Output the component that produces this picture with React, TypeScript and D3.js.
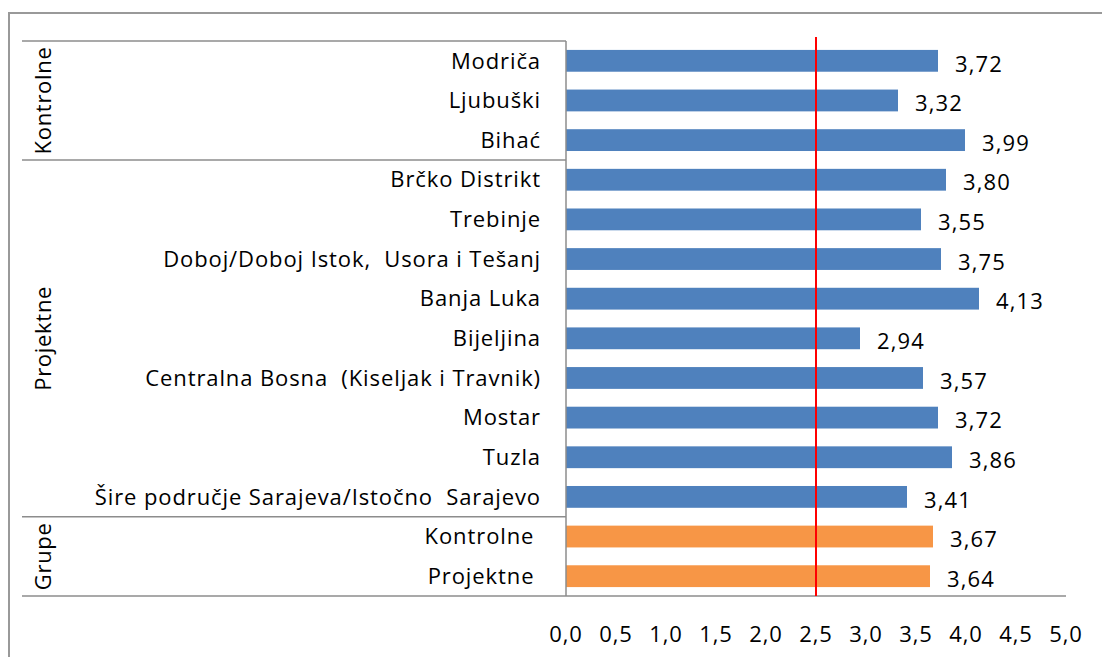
import React from 'react'
import * as d3 from 'd3'

// categories top to bottom, with their group
const categories = [
  'Modriča', 'Ljubuški', 'Bihać',
  'Brčko Distrikt', 'Trebinje', 'Doboj/Doboj Istok,  Usora i Tešanj', 'Banja Luka',
  'Bijeljina', 'Centralna Bosna  (Kiseljak i Travnik)', 'Mostar', 'Tuzla',
  'Šire područje Sarajeva/Istočno  Sarajevo',
  'Kontrolne ', 'Projektne ',
]
const values = [3.72, 3.32, 3.99, 3.80, 3.55, 3.75, 4.13, 2.94, 3.57, 3.72, 3.86, 3.41, 3.67, 3.64]
const groups = [
  { name: 'Kontrolne', from: 0, to: 2 },
  { name: 'Projektne', from: 3, to: 11 },
  { name: 'Grupe', from: 12, to: 13 },
]
const xTicks = [0, 0.5, 1, 1.5, 2, 2.5, 3, 3.5, 4, 4.5, 5]
const threshold = 2.5

const W = 1102
const H = 657
const left = 566
const right = 1066
const top = 41
const bottom = 596
const font = 'Open Sans, sans-serif'
const fs = 22

export default function App() {
  const x = d3.scaleLinear().domain([0, 5]).range([left, right])
  const y = d3.scaleBand<number>().domain(d3.range(categories.length)).range([top, bottom]).paddingInner(0.45).paddingOuter(0.225)
  const step = y.step()
  const fmt = (v: number) => d3.format('.2f')(v).replace('.', ',')
  const fmtTick = (v: number) => d3.format('.1f')(v).replace('.', ',')
  const axisColor = '#8c8c8c'

  return (
    <svg width={W} height={H} style={{ position: 'absolute', left: 0, top: 0 }} fontFamily={font}>
      <rect x={0} y={0} width={W} height={H} fill="#fff" />
      {/* outer frame */}
      <path d={`M9,${H} V13 H${W}`} fill="none" stroke="#999" strokeWidth={2} />

      {/* bars */}
      {values.map((v, i) => (
        <rect key={i} x={x(0)} y={y(i)} width={x(v) - x(0)} height={y.bandwidth()}
          fill={i >= 12 ? '#F79646' : '#4F81BD'} />
      ))}

      {/* value labels */}
      {values.map((v, i) => (
        <text key={i} x={x(v) + 17} y={y(i)! + y.bandwidth() / 2 + 3} dy="0.35em" fontSize={fs} letterSpacing={1.1} fill="#000">{fmt(v)}</text>
      ))}

      {/* category labels */}
      {categories.map((c, i) => (
        <text key={i} x={541} y={y(i)! + y.bandwidth() / 2} dy="0.35em" textAnchor="end" fontSize={fs} letterSpacing={0.9} fill="#000" style={{ whiteSpace: 'pre' }}>{c}</text>
      ))}

      {/* group separators */}
      <line x1={22} x2={left} y1={top} y2={top} stroke={axisColor} strokeWidth={1.5} />
      {groups.slice(0, -1).map(g => {
        const yy = top + (g.to + 1) * step
        return <line key={g.name} x1={22} x2={left} y1={yy} y2={yy} stroke={axisColor} strokeWidth={1.5} />
      })}
      {groups.map(g => {
        const cy = top + ((g.from + g.to + 1) / 2) * step
        return (
          <text key={g.name} transform={`translate(51,${cy}) rotate(-90)`} textAnchor="middle" fontSize={fs} letterSpacing={0.7} fill="#000">{g.name}</text>
        )
      })}

      {/* axes */}
      <line x1={left} x2={left} y1={top} y2={bottom} stroke={axisColor} strokeWidth={1.5} />
      <line x1={22} x2={right} y1={bottom} y2={bottom} stroke={axisColor} strokeWidth={1.5} />
      {xTicks.map(t => (
        <text key={t} x={x(t)} y={642} textAnchor="middle" fontSize={fs} letterSpacing={0.8} fill="#000">{fmtTick(t)}</text>
      ))}

      {/* threshold line */}
      <line x1={x(threshold)} x2={x(threshold)} y1={37} y2={bottom} stroke="#FF0000" strokeWidth={2} />
    </svg>
  )
}
